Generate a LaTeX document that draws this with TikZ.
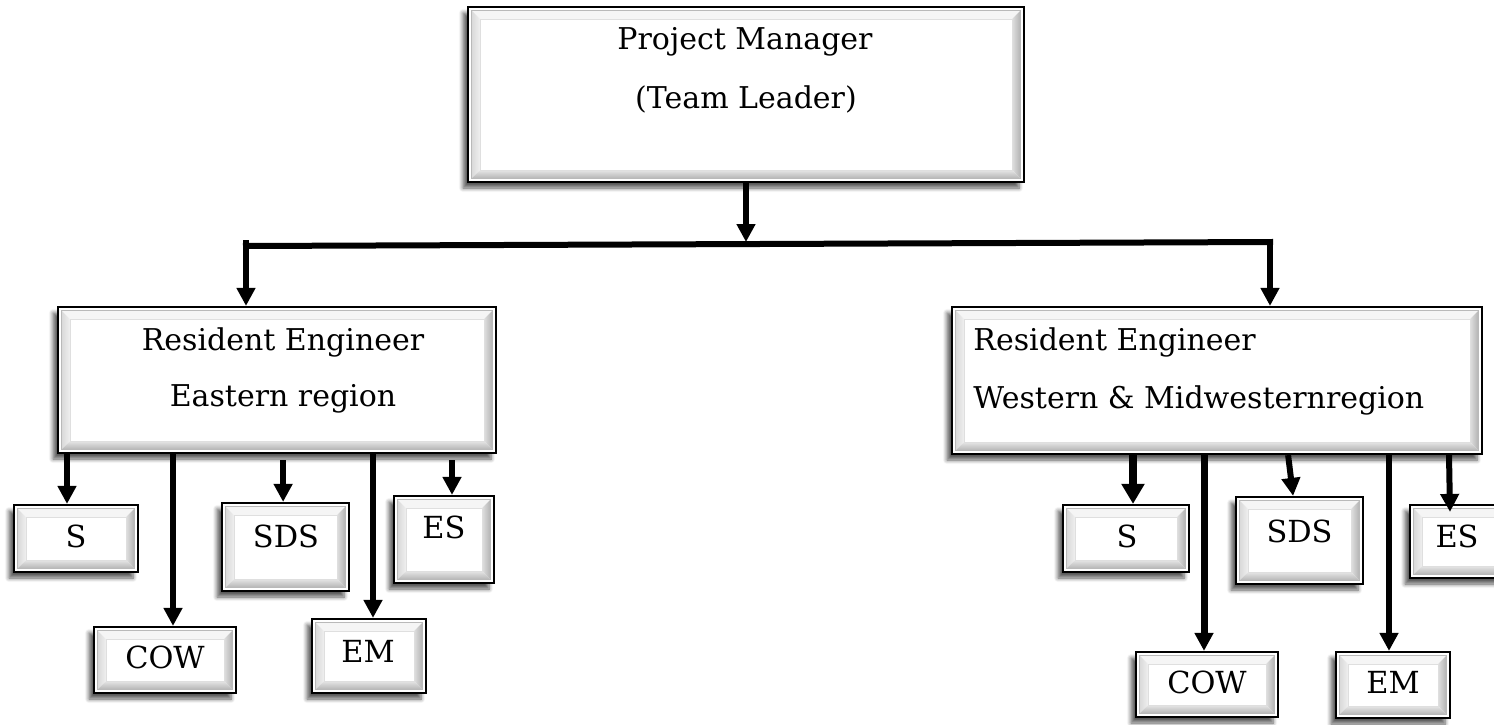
\documentclass[tikz,border=0pt]{standalone}
\usepackage{fontspec}
\setmainfont{DejaVu Serif}
\usetikzlibrary{arrows.meta,shadows.blur,calc}
\newcommand\bigtxt{\fontsize{15pt}{17pt}\selectfont}
\newcommand\smalltxt{\fontsize{15.2pt}{18pt}\selectfont}
\tikzset{
  bev/.style={rectangle, draw=black, line width=1.1pt, fill=white, inner sep=0pt,
    blur shadow={shadow xshift=-2.5pt, shadow yshift=-3pt, shadow blur steps=6, shadow opacity=65},
    path picture={
      \path let \p1=(path picture bounding box.south west),
                \p2=(path picture bounding box.north east) in
        (\x1+1.8pt,\y1+1.8pt) coordinate (oA)
        (\x2-1.8pt,\y1+1.8pt) coordinate (oB)
        (\x2-1.8pt,\y2-1.8pt) coordinate (oC)
        (\x1+1.8pt,\y2-1.8pt) coordinate (oD)
        (\x1+6pt,\y1+6pt) coordinate (iA)
        (\x2-6pt,\y1+6pt) coordinate (iB)
        (\x2-6pt,\y2-6pt) coordinate (iC)
        (\x1+6pt,\y2-6pt) coordinate (iD);
      \fill[gray!8] (oD) -- (oC) -- (iC) -- (iD) -- cycle;
      \shade[left color=gray!30, right color=gray!12] (oA) -- (oD) -- (iD) -- (iA) -- cycle;
      \shade[left color=gray!25, right color=gray!60] (oB) -- (oC) -- (iC) -- (iB) -- cycle;
      \shade[top color=gray!20, bottom color=gray!58] (oA) -- (oB) -- (iB) -- (iA) -- cycle;
      \draw[gray!55, line width=0.4pt] (oA) rectangle (oC);
      \draw[gray!25, line width=0.3pt] (iA) rectangle (iC);
    }},
  big/.style={anchor=base, font=\bigtxt, inner sep=0pt},
  small/.style={anchor=base, font=\smalltxt, inner sep=0pt},
  conn/.style={line width=3pt, line cap=rect},
  arr/.style={line width=3pt, -{Triangle[width=9pt,length=9pt]}},
  arrb/.style={line width=4pt, -{Triangle[width=11pt,length=10pt]}}
}
\begin{document}
\begin{tikzpicture}[x=0.5pt,y=-0.5pt]
\useasboundingbox (0,0) rectangle (1494,724);
% boxes
\node[bev, minimum width=278pt, minimum height=87.5pt] (PM) at (746,94.5) {};
\node[bev, minimum width=219pt, minimum height=73pt] (reL) at (277,380) {};
\node[bev, minimum width=265pt, minimum height=73.5pt] (reR) at (1217,380.5) {};
\node[bev, minimum width=62pt, minimum height=33.5pt] (sL) at (76,538.5) {};
\node[bev, minimum width=71pt, minimum height=33pt] (cowL) at (165,660) {};
\node[bev, minimum width=63.5pt, minimum height=44pt] (sdsL) at (285.5,547) {};
\node[bev, minimum width=57pt, minimum height=37pt] (emL) at (369,656) {};
\node[bev, minimum width=50pt, minimum height=43.5pt] (esL) at (444,539.5) {};
\node[bev, minimum width=63pt, minimum height=33.5pt] (sR) at (1126,538.5) {};
\node[bev, minimum width=71pt, minimum height=32.5pt] (cowR) at (1207,684.5) {};
\node[bev, minimum width=63.5pt, minimum height=43.5pt] (sdsR) at (1299.5,540.5) {};
\node[bev, minimum width=57pt, minimum height=33pt] (emR) at (1393,685) {};
\node[bev, minimum width=50pt, minimum height=36.5pt] (esR) at (1460,541.5) {};
% texts
\node[big] (pm1) at (745,49) {Project Manager};
\node[big] (pm2) at (746,108) {(Team Leader)};
\node[big] (rl1) at (283,350) {Resident Engineer};
\node[big] (rl2) at (283,406) {Eastern region};
\node[big, anchor=base west] (rr1) at (973,350) {Resident Engineer};
\node[big, anchor=base west] (rr2) at (973,408) {Western \& Midwesternregion};
\node[small] (tsL) at (76,547) {S};
\node[small] (tcowL) at (165,668) {COW};
\node[small] (tsdsL) at (286,547) {SDS};
\node[small] (temL) at (368,662) {EM};
\node[small] (tesL) at (444,538) {ES};
\node[small] (tsR) at (1127,547) {S};
\node[small] (tcowR) at (1207,693) {COW};
\node[small] (tsdsR) at (1299.5,542) {SDS};
\node[small] (temR) at (1393,693) {EM};
\node[small] (tesR) at (1457,547) {ES};
% top connectors
\coordinate (barL) at (246,246);
\coordinate (barR) at (1270,242);
\draw[conn] (barL) -- (barR);
\draw[arr] (PM.south) -- (746,242);
\draw[arr] ([yshift=3pt]barL) -- (barL |- reL.north);
\draw[arr] ([yshift=0pt]barR) -- (barR |- reR.north);
% left children
\draw[arr] ([xshift=-4.5pt]sL.north |- reL.south) -- ([xshift=-4.5pt]sL.north);
\draw[arr] ([xshift=4pt]cowL.north |- reL.south) -- ([xshift=4pt]cowL.north);
\draw[arr] ([xshift=-1.2pt,yshift=-3pt]sdsL.north |- reL.south) -- ([xshift=-1.2pt]sdsL.north);
\draw[arr] ([xshift=2pt]emL.north |- reL.south) -- ([xshift=2pt]emL.north);
\draw[arr] ([xshift=4pt,yshift=-3pt]esL.north |- reL.south) -- ([xshift=4pt]esL.north);
% right children
\draw[arrb] ([xshift=3.5pt]sR.north |- reR.south) -- ([xshift=3.5pt]sR.north);
\draw[arr, line width=3.5pt] ([xshift=-1.5pt]cowR.north |- reR.south) -- ([xshift=-1.5pt]cowR.north);
\draw[arr] ([xshift=-5.7pt]sdsR.north |- reR.south) -- ([xshift=-3.2pt]sdsR.north);
\draw[arr] ([xshift=-2pt]emR.north |- reR.south) -- ([xshift=-2pt]emR.north);
\draw[arr] ([xshift=-5.5pt]esR.north |- reR.south) -- ([xshift=-5pt,yshift=-4pt]esR.north);
\end{tikzpicture}
\end{document}
